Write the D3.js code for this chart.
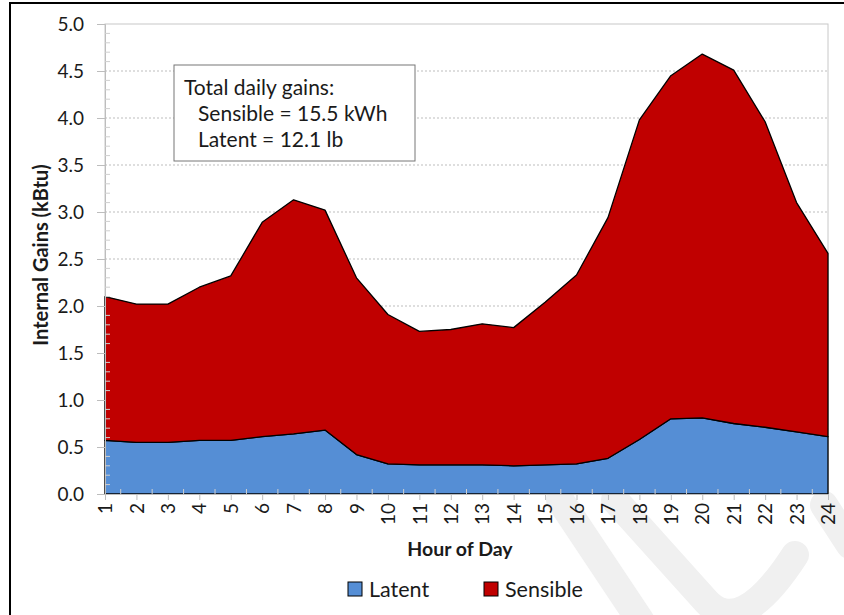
<!DOCTYPE html>
<html>
<head>
<meta charset="utf-8">
<script src="https://cdn.jsdelivr.net/npm/d3@7"></script>
<style>
  body { margin: 0; background: #fff; }
  text { font-family: Lato, "Open Sans", sans-serif; fill: #1a1a1a; }
</style>
</head>
<body>
<svg id="chart" width="844" height="615"></svg>
<script>
const hours = d3.range(1, 25)
const latent = [0.57, 0.55, 0.55, 0.57, 0.57, 0.61, 0.64, 0.68, 0.42, 0.32, 0.31, 0.31,
  0.31, 0.30, 0.31, 0.32, 0.38, 0.58, 0.80, 0.81, 0.75, 0.71, 0.66, 0.61]
const sensible = [1.53, 1.47, 1.47, 1.63, 1.75, 2.28, 2.49, 2.34, 1.88, 1.59, 1.42, 1.44,
  1.50, 1.47, 1.73, 2.01, 2.56, 3.40, 3.65, 3.87, 3.76, 3.25, 2.44, 1.95]
const yTicks = [0, 0.5, 1, 1.5, 2, 2.5, 3, 3.5, 4, 4.5, 5]
const noteLines = ['Total daily gains:', 'Sensible = 15.5 kWh', 'Latent = 12.1 lb']
const seriesNames = ['Latent', 'Sensible']

const svg = d3.select('#chart')
const plotLeft = 105, plotRight = 828, plotTop = 24, plotBottom = 494

const colors = { Latent: '#558ed5', Sensible: '#c00000' }

// outer frame (only left and top edges visible)
svg.append('rect')
  .attr('x', 10).attr('y', 3)
  .attr('width', 900).attr('height', 700)
  .attr('fill', 'none').attr('stroke', '#000').attr('stroke-width', 2)

// faint watermark strokes
const wm = svg.append('g').attr('fill', 'none').attr('stroke', '#f0f0f0').attr('stroke-linecap', 'round')
wm.append('path').attr('d', 'M560,500 L640,620').attr('stroke-width', 28)
wm.append('path').attr('d', 'M615,500 L705,600 Q740,640 795,555').attr('stroke-width', 28)
wm.append('path').attr('d', 'M824,505 L850,545').attr('stroke-width', 28)

const x = d3.scaleLinear().domain([1, 24]).range([plotLeft, plotRight])
const y = d3.scaleLinear().domain([0, 5]).range([plotBottom, plotTop])

// plot frame
svg.append('rect')
  .attr('x', plotLeft).attr('y', plotTop)
  .attr('width', plotRight - plotLeft).attr('height', plotBottom - plotTop)
  .attr('fill', '#fff').attr('stroke', '#c8c8c8').attr('stroke-width', 1)

// gridlines
svg.append('g')
  .selectAll('line')
  .data(yTicks.filter(d => d > 0 && d < 5))
  .join('line')
  .attr('x1', plotLeft).attr('x2', plotRight)
  .attr('y1', d => y(d)).attr('y2', d => y(d))
  .attr('stroke', '#bdbdbd').attr('stroke-width', 1)
  .attr('stroke-dasharray', '2,2')

// stacked areas
const table = hours.map((h, i) => ({ hour: h, Latent: latent[i], Sensible: sensible[i] }))
const series = d3.stack().keys(seriesNames)(table)
const area = d3.area()
  .x(d => x(d.data.hour))
  .y0(d => y(d[0]))
  .y1(d => y(d[1]))

svg.append('g')
  .selectAll('path')
  .data(series)
  .join('path')
  .attr('d', area)
  .attr('fill', d => colors[d.key])
  .attr('stroke', '#000')
  .attr('stroke-width', 1.3)
  .attr('stroke-linejoin', 'round')

// Axes
// - Axis Y
const yAxis = svg.append('g')
  .attr('transform', `translate(${plotLeft},0)`)
  .call(d3.axisLeft(y).tickValues(yTicks).tickFormat(d3.format('.1f')).tickSize(8).tickPadding(13))
yAxis.select('.domain').attr('stroke', '#bdbdbd')
yAxis.selectAll('.tick line').attr('stroke', '#bdbdbd')
yAxis.selectAll('text').style('font-size', '19px').attr('fill', '#1a1a1a')

svg.append('g')
  .selectAll('line')
  .data(d3.range(0, 50).filter(i => i % 5 !== 0).map(i => i / 10))
  .join('line')
  .attr('x1', plotLeft).attr('x2', plotLeft + 5)
  .attr('y1', d => y(d)).attr('y2', d => y(d))
  .attr('stroke', '#cfcfcf')

// - Axis X
const xAxis = svg.append('g')
  .attr('transform', `translate(0,${plotBottom})`)
  .call(d3.axisBottom(x).tickValues(hours).tickFormat(d3.format('d')).tickSize(6).tickPadding(8))
xAxis.select('.domain').attr('stroke', '#bdbdbd')
xAxis.selectAll('.tick line').attr('stroke', '#bdbdbd')
xAxis.selectAll('text')
  .style('font-size', '19px')
  .attr('fill', '#1a1a1a')
  .attr('transform', 'rotate(-90)')
  .attr('text-anchor', 'end')
  .attr('x', -9)
  .attr('y', 0)
  .attr('dy', '0.35em')

svg.append('g')
  .selectAll('line')
  .data(hours.slice(0, -1).map(h => h + 0.5))
  .join('line')
  .attr('x1', d => x(d)).attr('x2', d => x(d))
  .attr('y1', plotBottom).attr('y2', plotBottom - 5)
  .attr('stroke', '#cfcfcf')

// axis titles
svg.append('text')
  .attr('x', 460)
  .attr('y', 556)
  .attr('text-anchor', 'middle')
  .style('font-size', '19.5px')
  .style('font-weight', 'bold')
  .text('Hour of Day')

svg.append('text')
  .attr('transform', `translate(48,255) rotate(-90)`)
  .attr('text-anchor', 'middle')
  .style('font-size', '20px')
  .style('font-weight', 'bold')
  .text('Internal Gains (kBtu)')

// note box
svg.append('rect')
  .attr('x', 174).attr('y', 65)
  .attr('width', 241).attr('height', 96)
  .attr('fill', '#fff').attr('stroke', '#777').attr('stroke-width', 1)

svg.append('g')
  .selectAll('text')
  .data(noteLines)
  .join('text')
  .attr('x', (d, i) => i === 0 ? 184 : 198)
  .attr('y', (d, i) => 95 + i * 26)
  .style('font-size', '21px')
  .text(d => d)

// Legend
const legend = svg.append('g')
const legendX = [348, 484]
seriesNames.forEach((name, i) => {
  const item = legend.append('g').attr('transform', `translate(${legendX[i]},582)`)
  item.append('rect')
    .attr('width', 14).attr('height', 14)
    .attr('fill', colors[name]).attr('stroke', '#000').attr('stroke-width', 1)
  item.append('text')
    .attr('x', 21).attr('y', 7)
    .attr('dy', '0.36em')
    .style('font-size', '21.5px')
    .text(name)
})
</script>
</body>
</html>
